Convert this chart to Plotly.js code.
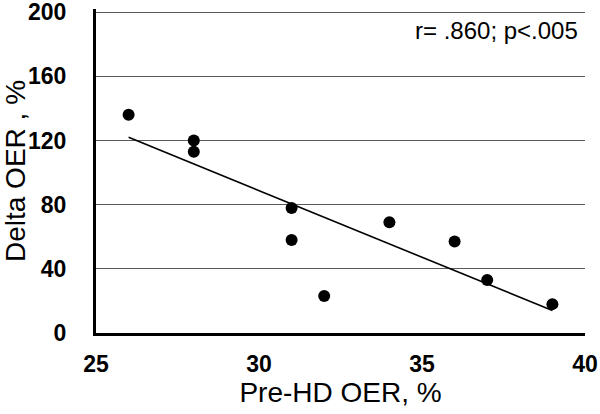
<!DOCTYPE html>
<html>
<head>
<meta charset="utf-8">
<script src="https://cdn.plot.ly/plotly-3.0.1.min.js"></script>
<style>
  html, body { margin: 0; padding: 0; background: #fff; }
  #chart { width: 600px; height: 414px; }
</style>
</head>
<body>
<div id="chart"></div>
<script>
// Pre-HD OER (%) vs change in OER (%)
var preOER = [26, 28, 28, 31, 31, 32, 34, 36, 37, 39];
var deltaOER = [136, 120, 113, 78, 58, 23, 69, 57, 33, 18];

// regression line end points
var fitX = [26, 39];
var fitY = [122, 14];

var xTicks = [25, 30, 35, 40];
var yTicks = [0, 40, 80, 120, 160, 200];

var FONT = 'Arial, "Liberation Sans", sans-serif';

var points = {
    x: preOER,
    y: deltaOER,
    mode: 'markers',
    type: 'scatter',
    marker: { color: '#000', size: 12 },
    hoverinfo: 'x+y'
};

var fit = {
    x: fitX,
    y: fitY,
    mode: 'lines',
    type: 'scatter',
    line: { color: '#000', width: 1.6 },
    hoverinfo: 'skip'
};

var layout = {
    width: 600,
    height: 414,
    margin: { l: 96, r: 15, t: 9, b: 81 },
    paper_bgcolor: '#fff',
    plot_bgcolor: '#fff',
    showlegend: false,
    font: { family: FONT, color: '#000' },
    xaxis: {
        range: [25, 40],
        tickvals: xTicks,
        ticks: '',
        showgrid: false,
        zeroline: false,
        showline: true,
        linecolor: '#000',
        linewidth: 3,
        ticklabelstandoff: 8,
        ticklabeloverflow: 'allow',
        tickfont: { family: FONT, size: 23, weight: 'bold', color: '#000' },
        title: { text: 'Pre-HD OER, %', font: { family: FONT, size: 28, color: '#000' }, standoff: 6 }
    },
    yaxis: {
        range: [0, 202],
        tickvals: yTicks,
        ticks: '',
        showgrid: true,
        gridcolor: '#5a5a5a',
        gridwidth: 1,
        zeroline: false,
        showline: true,
        linecolor: '#000',
        linewidth: 3,
        ticklabelstandoff: 22,
        ticklabeloverflow: 'allow',
        tickfont: { family: FONT, size: 23, weight: 'bold', color: '#000' },
        title: { text: 'Delta OER , %', font: { family: FONT, size: 28, color: '#000' }, standoff: 2 }
    },
    annotations: [{
        text: 'r= .860; p<.005',
        xref: 'paper', yref: 'paper',
        x: 0.99, y: 0.935,
        xanchor: 'right', yanchor: 'middle',
        showarrow: false,
        font: { family: FONT, size: 24, color: '#000' }
    }]
};

Plotly.newPlot('chart', [points, fit], layout, { displayModeBar: false, staticPlot: true });
</script>
</body>
</html>
